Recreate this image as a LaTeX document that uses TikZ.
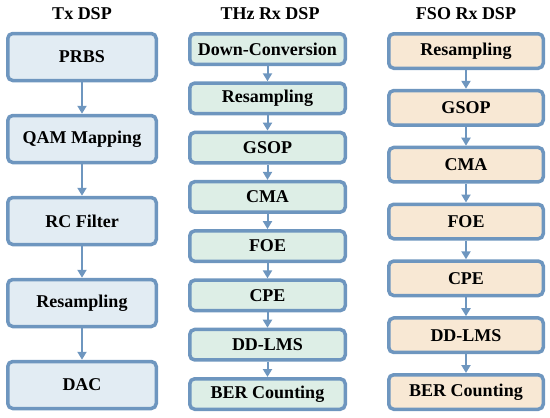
\documentclass[tikz,border=0pt]{standalone}
\usepackage{fontspec}
\setmainfont{Liberation Serif}
\usetikzlibrary{arrows.meta}
\definecolor{edgeblue}{HTML}{6E96BF}
\definecolor{txfill}{HTML}{E2ECF3}
\definecolor{thzfill}{HTML}{DDEEE6}
\definecolor{fsofill}{HTML}{F8E8D4}
\begin{document}
\begin{tikzpicture}[x=1pt,y=-1pt,
    every node/.style={font=\fontsize{18}{20}\selectfont\bfseries},
    block/.style={draw=edgeblue, line width=3.5pt, rounded corners=5pt, inner sep=0pt},
    txblock/.style={block, fill=txfill, minimum width=148.5pt, minimum height=47pt},
    thzblock/.style={block, fill=thzfill, minimum width=155.5pt, minimum height=30.5pt},
    fsoblock/.style={block, fill=fsofill, minimum width=154.5pt, minimum height=34.5pt},
    flow/.style={draw=edgeblue, line width=2pt, -{Triangle[width=9pt,length=8pt]}}]
  \useasboundingbox (0,0) rectangle (550,418);
  % titles
  \node (txtitle) at (82,14) {Tx DSP};
  \node (thztitle) at (270,14) {THz Rx DSP};
  \node (fsotitle) at (466,14) {FSO Rx DSP};
  % Tx DSP
  \node[txblock] (tx1) at (82,57) {PRBS};
  \node[txblock] (tx2) at (82,139) {QAM Mapping};
  \node[txblock] (tx3) at (82,221) {RC Filter};
  \node[txblock] (tx4) at (82,303) {Resampling};
  \node[txblock] (tx5) at (82,385) {DAC};
  % THz Rx DSP
  \node[thzblock] (thz1) at (267.5,49) {Down-Conversion};
  \node[thzblock] (thz2) at (267.5,98.3) {Resampling};
  \node[thzblock] (thz3) at (267.5,147.6) {GSOP};
  \node[thzblock] (thz4) at (267.5,196.9) {CMA};
  \node[thzblock] (thz5) at (267.5,246.1) {FOE};
  \node[thzblock] (thz6) at (267.5,295.4) {CPE};
  \node[thzblock] (thz7) at (267.5,344.7) {DD-LMS};
  \node[thzblock] (thz8) at (267.5,394) {BER Counting};
  % FSO Rx DSP
  \node[fsoblock] (fso1) at (466,51) {Resampling};
  \node[fsoblock] (fso2) at (466,107.8) {GSOP};
  \node[fsoblock] (fso3) at (466,164.7) {CMA};
  \node[fsoblock] (fso4) at (466,221.5) {FOE};
  \node[fsoblock] (fso5) at (466,278.3) {CPE};
  \node[fsoblock] (fso6) at (466,335.2) {DD-LMS};
  \node[fsoblock] (fso7) at (466,392) {BER Counting};
  % arrows
  \foreach \a/\b in {1/2,2/3,3/4,4/5}
    \draw[flow] (tx\a.south) -- (tx\b.north);
  \foreach \a/\b in {1/2,2/3,3/4,4/5,5/6,6/7,7/8}
    \draw[flow] (thz\a.south) -- (thz\b.north);
  \foreach \a/\b in {1/2,2/3,3/4,4/5,5/6,6/7}
    \draw[flow] (fso\a.south) -- (fso\b.north);
\end{tikzpicture}
\end{document}
